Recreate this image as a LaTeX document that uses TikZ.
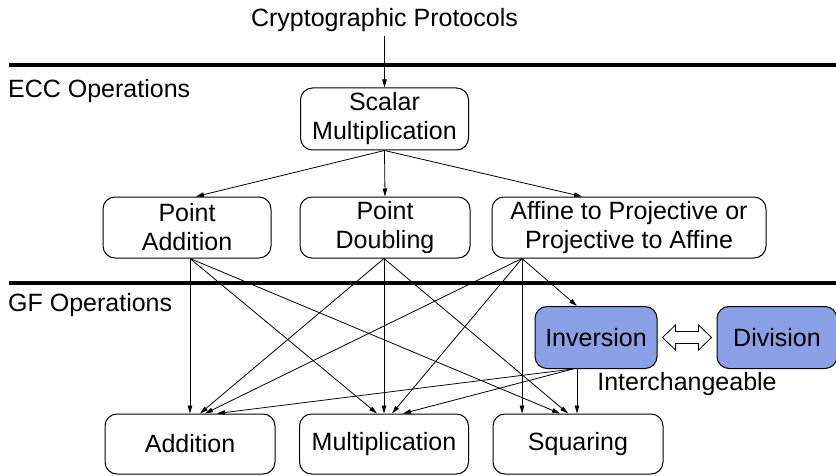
\documentclass[tikz,border=0pt]{standalone}
\usepackage{fontspec}
\setmainfont{Liberation Sans}
\usetikzlibrary{arrows.meta,calc}
\definecolor{invblue}{RGB}{139,159,230}
\tikzset{
  opbox/.style={draw, line width=1pt, rounded corners=12pt, align=center, inner sep=0pt, minimum height=61pt},
  link/.style={line width=0.8pt, -{Triangle[length=8pt,width=4.5pt]}},
  sep/.style={line width=4pt}
}

\begin{document}
\begin{tikzpicture}[x=1pt,y=1pt,font=\fontsize{25}{29}\selectfont]
			\useasboundingbox (0,0) rectangle (836,475);
			%%%%% LAYERS %%%%%
			
			\draw[sep] (9,410.3) -- (836,410.3);
			\draw[sep] (9,192) -- (836,192);
			
			\node[anchor=base west, inner sep=0pt] (ecc) at (8,377.3) {ECC Operations};
			\node[anchor=base west, inner sep=0pt] (gf) at (8,163.3) {GF Operations};
			\node[anchor=base, inner sep=4pt] (proto) at (384.5,448) {Cryptographic Protocols};
			
			%%%%% ECC %%%%%
			
			\node[opbox, minimum width=168pt, minimum height=62pt] (sm) at (384.5,356) {Scalar\\Multiplication};
			\node[opbox, minimum width=168pt] (pa) at (187,247.5) {Point\\Addition};
			\node[opbox, minimum width=170pt] (pd) at (385,247.5) {Point\\Doubling};
			\node[opbox, minimum width=274pt] (aff) at (629,247.5) {Affine to Projective or\\Projective to Affine};
			
			%%%%% GF %%%%%
			
			\node[opbox, fill=invblue, minimum width=122pt, minimum height=62pt] (inv) at (596,137.5) {Inversion};
			\node[opbox, fill=invblue, minimum width=120pt, minimum height=62pt] (dvs) at (777,137.5) {Division};
			\node[anchor=base, inner sep=0pt] (ichg) at (687,84.3) {Interchangeable};
			
			\node[opbox, minimum width=170pt, minimum height=60pt] (add) at (190,31) {Addition};
			\node[opbox, minimum width=169pt, minimum height=60pt] (mul) at (384,31) {Multiplication};
			\node[opbox, minimum width=170pt, minimum height=60pt] (sqr) at (578,31) {Squaring};
			
			%%%%% LINKS %%%%%
			
			\draw[link] (proto.south) -- (sm.north);
			
			\draw[link] (sm.south) -- ([xshift=9pt]pa.north);
			\draw[link] (sm.south) -- (pd.north);
			\draw[link] (sm.south) -- ([xshift=-47pt]aff.north);
			
			\draw[link] ([xshift=3pt]pa.south) -- (add.north);
			\draw[link] ([xshift=3pt]pa.south) -- ([xshift=-7pt]mul.north);
			\draw[link] ([xshift=3pt]pa.south) -- ([xshift=-18pt]sqr.north);
			
			\draw[link] ([xshift=-1pt]pd.south) -- ([xshift=10pt]add.north);
			\draw[link] ([xshift=-1pt]pd.south) -- (mul.north);
			\draw[link] ([xshift=-1pt]pd.south) -- ([xshift=-10pt]sqr.north);
			
			\draw[link] ([xshift=-107pt]aff.south) -- ([xshift=15pt]add.north);
			\draw[link] ([xshift=-107pt]aff.south) -- ([xshift=8pt]mul.north);
			\draw[link] ([xshift=-107pt]aff.south) -- ([xshift=-56pt]sqr.north);
			\draw[link] ([xshift=-107pt]aff.south) -- ([xshift=-19pt]inv.north);
			
			\draw[link] ([xshift=-23pt]inv.south) -- ([xshift=27pt]add.north);
			\draw[link] ([xshift=-23pt]inv.south) -- ([xshift=19pt]mul.north);
			\draw[link] ([xshift=-19pt]inv.south) -- ([xshift=-1pt]sqr.north);
			
			% hollow double arrow between the two
			\draw[line width=0.8pt, fill=white] ($(inv.east)+(5,0)$) -- ++(13,12.5) -- ++(0,-6.5) -- ++(23,0) -- ++(0,6.5) -- ++(13,-12.5) -- ++(-13,-12.5) -- ++(0,6.5) -- ++(-23,0) -- ++(0,-6.5) -- cycle;
			
			%%%%% END %%%%%
\end{tikzpicture}
\end{document}
